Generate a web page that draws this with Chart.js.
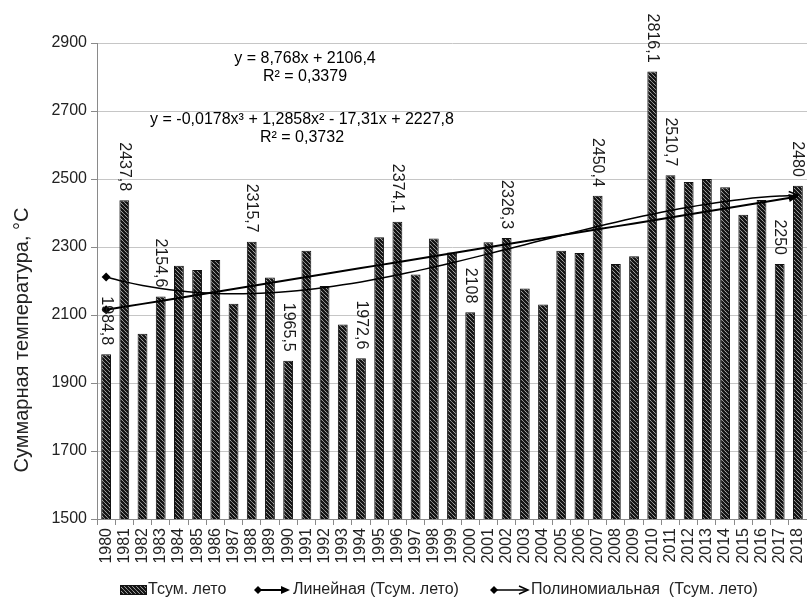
<!DOCTYPE html>
<html lang="ru">
<head>
<meta charset="utf-8">
<title>Суммарная температура летнего периода</title>
<script src="https://cdn.jsdelivr.net/npm/chart.js@4.4.1/dist/chart.umd.min.js"></script>
<style>
  html, body { margin: 0; padding: 0; background: #ffffff; }
  #wrap { width: 807px; height: 601px; }
</style>
</head>
<body>
<div id="wrap"><canvas id="chart" width="807" height="601"></canvas></div>
<script>
// Years of observation
const years = [
  '1980','1981','1982','1983','1984','1985','1986','1987','1988','1989',
  '1990','1991','1992','1993','1994','1995','1996','1997','1998','1999',
  '2000','2001','2002','2003','2004','2005','2006','2007','2008','2009',
  '2010','2011','2012','2013','2014','2015','2016','2017','2018'
];

// Summer sum of temperatures, °C
const tsumSummer = [
  1984.8, 2437.8, 2045, 2154.6, 2245, 2232, 2262, 2133, 2315.7, 2210,
  1965.5, 2289, 2185, 2072, 1972.6, 2329, 2374.1, 2219, 2325, 2284,
  2108, 2314, 2326.3, 2178, 2131, 2289, 2282, 2450.4, 2250, 2273,
  2816.1, 2510.7, 2491, 2500, 2476, 2395, 2438, 2250, 2480
];

// Years whose value is printed above the bar
const labeledYears = ['1980','1981','1983','1988','1990','1994','1996','2000','2002','2007','2010','2011','2017','2018'];

// Trend equations (x = 1 for 1980): y = a*x + b ; y = c3*x^3 + c2*x^2 + c1*x + c0
const linearCoef = [8.768, 2106.4];
const polyCoef = [-0.0178, 1.2858, -17.31, 2227.8];
const linearText = ['y = 8,768x + 2106,4', 'R² = 0,3379'];
const polyText = ['y = -0,0178x³ + 1,2858x² - 17,31x + 2227,8', 'R² = 0,3732'];

// Value axis
const yMin = 1500, yMax = 2900, yStep = 200;

const seriesName = 'Тсум. лето';
const linearName = 'Линейная (Тсум. лето)';
const polyName = 'Полиномиальная  (Тсум. лето)';
const yTitle = 'Суммарная температура, °С';

const FONT = '"Liberation Sans", Arial, sans-serif';

const linearTrend = years.map((_, i) => linearCoef[0] * (i + 1) + linearCoef[1]);
const polyTrend = years.map((_, i) => {
  const x = i + 1;
  return polyCoef[0] * x * x * x + polyCoef[1] * x * x + polyCoef[2] * x + polyCoef[3];
});

// Diagonal hatch fill for the bars
function makeHatch() {
  const c = document.createElement('canvas');
  c.width = 4; c.height = 4;
  const g = c.getContext('2d');
  g.fillStyle = '#ffffff';
  g.fillRect(0, 0, 4, 4);
  g.strokeStyle = '#111111';
  g.lineWidth = 2.3;
  g.beginPath();
  g.moveTo(-1, -1); g.lineTo(5, 5);
  g.moveTo(-1, 3); g.lineTo(1, 5);
  g.moveTo(3, -1); g.lineTo(5, 1);
  g.stroke();
  return g.createPattern(c, 'repeat');
}
const hatch = makeHatch();

function fmt(v) { return String(v).replace('.', ','); }

function arrowHead(ctx, x, y, angle, filled) {
  const len = 9, half = 4;
  const bx = x - len * Math.cos(angle), by = y - len * Math.sin(angle);
  const px = -Math.sin(angle) * half, py = Math.cos(angle) * half;
  ctx.beginPath();
  ctx.moveTo(bx + px, by + py);
  ctx.lineTo(x, y);
  ctx.lineTo(bx - px, by - py);
  if (filled) { ctx.closePath(); ctx.fill(); } else { ctx.stroke(); }
}

function diamond(ctx, x, y, r) {
  ctx.beginPath();
  ctx.moveTo(x, y - r); ctx.lineTo(x + r, y); ctx.lineTo(x, y + r); ctx.lineTo(x - r, y);
  ctx.closePath(); ctx.fill();
}

const decorations = {
  id: 'decorations',
  afterDatasetsDraw(chart) {
    const ctx = chart.ctx;
    ctx.save();
    ctx.fillStyle = '#000';
    ctx.strokeStyle = '#000';
    // arrow heads at the end of the trend lines
    [1, 2].forEach((di) => {
      const pts = chart.getDatasetMeta(di).data;
      const last = pts[pts.length - 1], prev = pts[pts.length - 2];
      const ang = Math.atan2(last.y - prev.y, last.x - prev.x);
      ctx.lineWidth = di === 1 ? 2 : 1.5;
      arrowHead(ctx, last.x, last.y, ang, di === 1);
    });
    // value labels above selected bars
    const bars = chart.getDatasetMeta(0).data;
    ctx.font = '16px ' + FONT;
    ctx.fillStyle = '#1a1a1a';
    ctx.textAlign = 'right';
    ctx.textBaseline = 'middle';
    years.forEach((yr, i) => {
      if (!labeledYears.includes(yr)) return;
      const b = bars[i];
      ctx.save();
      ctx.translate(b.x, b.y - 9);
      ctx.rotate(Math.PI / 2);
      ctx.fillText(fmt(tsumSummer[i]), 0, 0);
      ctx.restore();
    });
    ctx.restore();
  },
  afterDraw(chart) {
    const ctx = chart.ctx;
    ctx.save();
    // trend equations
    ctx.fillStyle = '#000';
    ctx.font = '16px ' + FONT;
    ctx.textAlign = 'center';
    ctx.textBaseline = 'middle';
    ctx.fillText(linearText[0], 305, 59);
    ctx.fillText(linearText[1], 305, 77);
    ctx.fillText(polyText[0], 302, 120);
    ctx.fillText(polyText[1], 302, 138);

    // value axis title
    ctx.save();
    ctx.translate(28, 340);
    ctx.rotate(-Math.PI / 2);
    ctx.font = '20px ' + FONT;
    ctx.fillStyle = '#222';
    ctx.textAlign = 'center';
    ctx.textBaseline = 'alphabetic';
    ctx.fillText(yTitle, 0, 0);
    ctx.restore();

    // legend
    const ly = 590;
    ctx.font = '16px ' + FONT;
    ctx.textAlign = 'left';
    ctx.textBaseline = 'middle';
    ctx.fillStyle = hatch;
    ctx.fillRect(120, ly - 5, 27, 10);
    ctx.strokeStyle = '#111';
    ctx.lineWidth = 1;
    ctx.strokeRect(120.5, ly - 4.5, 26, 9);
    ctx.fillStyle = '#222';
    ctx.fillText(seriesName, 148, ly);

    ctx.fillStyle = '#000';
    ctx.strokeStyle = '#000';
    ctx.lineWidth = 2;
    diamond(ctx, 258, ly, 4);
    ctx.beginPath(); ctx.moveTo(258, ly); ctx.lineTo(288, ly); ctx.stroke();
    arrowHead(ctx, 290, ly, 0, true);
    ctx.fillStyle = '#222';
    ctx.fillText(linearName, 293, ly);

    ctx.fillStyle = '#000';
    ctx.lineWidth = 1.5;
    diamond(ctx, 494, ly, 4);
    ctx.beginPath(); ctx.moveTo(494, ly); ctx.lineTo(527, ly); ctx.stroke();
    arrowHead(ctx, 528, ly, 0, false);
    ctx.fillStyle = '#222';
    ctx.fillText(polyName, 531, ly);
    ctx.restore();
  }
};

new Chart(document.getElementById('chart'), {
  type: 'bar',
  data: {
    labels: years,
    datasets: [
      {
        label: seriesName,
        data: tsumSummer,
        backgroundColor: hatch,
        borderColor: '#111',
        borderWidth: 1,
        categoryPercentage: 1,
        barPercentage: 0.54,
        order: 3
      },
      {
        type: 'line',
        label: linearName,
        data: linearTrend,
        borderColor: '#000',
        borderWidth: 2,
        pointStyle: 'rectRot',
        pointRadius: (c) => (c.dataIndex === 0 ? 4.5 : 0),
        pointBackgroundColor: '#000',
        pointBorderColor: '#000',
        pointBorderWidth: 0,
        fill: false,
        tension: 0,
        order: 1
      },
      {
        type: 'line',
        label: polyName,
        data: polyTrend,
        borderColor: '#000',
        borderWidth: 1.5,
        pointStyle: 'rectRot',
        pointRadius: (c) => (c.dataIndex === 0 ? 4.5 : 0),
        pointBackgroundColor: '#000',
        pointBorderColor: '#000',
        pointBorderWidth: 0,
        fill: false,
        tension: 0.3,
        order: 2
      }
    ]
  },
  options: {
    responsive: false,
    animation: false,
    devicePixelRatio: 1,
    layout: { autoPadding: false, padding: { top: 43, right: 0, bottom: 37, left: 0 } },
    plugins: { legend: { display: false }, tooltip: { enabled: false } },
    scales: {
      x: {
        offset: true,
        grid: { display: true, drawOnChartArea: false, offset: true, tickLength: 6, color: '#8a8a8a' },
        border: { color: '#8a8a8a', width: 1 },
        ticks: {
          autoSkip: false, minRotation: 90, maxRotation: 90, padding: 3,
          color: '#222', font: { family: FONT, size: 16 }
        },
        afterFit(scale) {
          scale.height = 45;
          scale.paddingLeft = 0;
          scale.paddingRight = 0;
        }
      },
      y: {
        min: yMin, max: yMax,
        grid: { color: '#c6c6c6', tickColor: '#8a8a8a', tickLength: 6 },
        border: { color: '#8a8a8a', width: 1 },
        ticks: {
          stepSize: yStep, padding: 4,
          color: '#222', font: { family: FONT, size: 16 },
          callback: (v) => String(v)
        },
        afterFit(scale) { scale.width = 97; }
      }
    }
  },
  plugins: [decorations]
});
</script>
</body>
</html>
